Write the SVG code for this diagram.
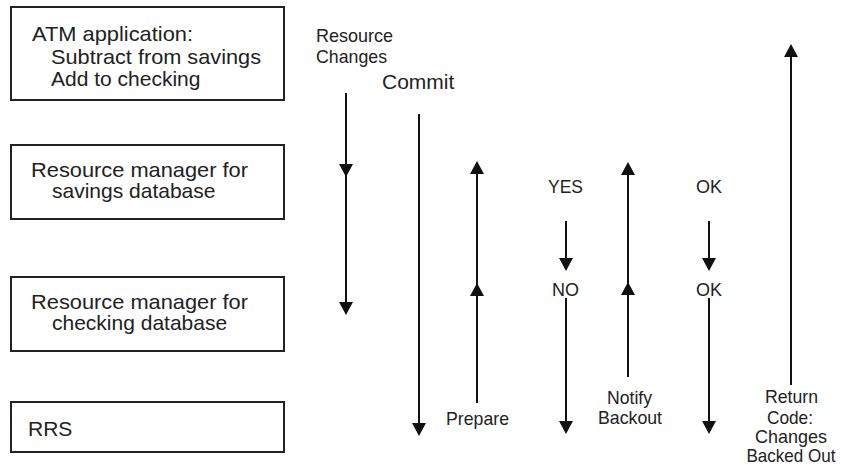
<svg xmlns="http://www.w3.org/2000/svg" width="842" height="472" viewBox="0 0 842 472">
<style>
.box{fill:#fff;stroke:#222;stroke-width:2}
.bt{font-family:"Liberation Sans",Arial,sans-serif;font-size:21px;fill:#222}
.lb{font-family:"Liberation Sans",Arial,sans-serif;font-size:19px;fill:#222}
.cm{font-family:"Liberation Sans",Arial,sans-serif;font-size:21px;fill:#222}
.ar{fill:none;stroke:#111;stroke-width:2;marker-end:url(#ah);marker-mid:url(#ah)}
</style>
<defs>
<marker id="ah" markerUnits="userSpaceOnUse" markerWidth="14" markerHeight="14" refX="11" refY="7" orient="auto" viewBox="0 0 14 14">
<path d="M0,0 L13,7 L0,14 z" fill="#111"/>
</marker>
</defs>
<g id="atm">
<rect class="box" x="11" y="7" width="273" height="93"/>
<text class="bt" x="32" y="41" textLength="161" lengthAdjust="spacingAndGlyphs">ATM application:</text>
<text class="bt" x="51" y="64" textLength="210" lengthAdjust="spacingAndGlyphs">Subtract from savings</text>
<text class="bt" x="51" y="86">Add to checking</text>
</g>
<g id="rm-savings">
<rect class="box" x="11" y="145" width="273" height="74"/>
<text class="bt" x="31" y="177" textLength="217" lengthAdjust="spacingAndGlyphs">Resource manager for</text>
<text class="bt" x="52" y="198">savings database</text>
</g>
<g id="rm-checking">
<rect class="box" x="11" y="277" width="273" height="74"/>
<text class="bt" x="31" y="309" textLength="217" lengthAdjust="spacingAndGlyphs">Resource manager for</text>
<text class="bt" x="52" y="330">checking database</text>
</g>
<g id="rrs">
<rect class="box" x="11" y="402" width="273" height="50"/>
<text class="bt" x="28" y="436">RRS</text>
</g>
<g id="connectors">
<polyline class="ar" points="346,93 346,175 346,313"/>
<polyline class="ar" points="419,114 419,434"/>
<polyline class="ar" points="477,403 477,285 477,163"/>
<polyline class="ar" points="566,221 566,269"/>
<polyline class="ar" points="566,298 566,432"/>
<polyline class="ar" points="628,377 628,284 628,164"/>
<polyline class="ar" points="709,221 709,269"/>
<polyline class="ar" points="709,298 709,432"/>
<polyline class="ar" points="791,385 791,46"/>
</g>
<g id="labels">
<text class="lb" x="316" y="42" textLength="77" lengthAdjust="spacingAndGlyphs">Resource</text>
<text class="lb" x="316" y="63" textLength="71" lengthAdjust="spacingAndGlyphs">Changes</text>
<text class="cm" x="382" y="89">Commit</text>
<text class="lb" x="548" y="193" textLength="35" lengthAdjust="spacingAndGlyphs">YES</text>
<text class="lb" x="696" y="193" textLength="26" lengthAdjust="spacingAndGlyphs">OK</text>
<text class="lb" x="552" y="296" textLength="27" lengthAdjust="spacingAndGlyphs">NO</text>
<text class="lb" x="696" y="296" textLength="26" lengthAdjust="spacingAndGlyphs">OK</text>
<text class="lb" x="446" y="425" textLength="63" lengthAdjust="spacingAndGlyphs">Prepare</text>
<text class="lb" x="607" y="404" textLength="45" lengthAdjust="spacingAndGlyphs">Notify</text>
<text class="lb" x="598" y="424" textLength="64" lengthAdjust="spacingAndGlyphs">Backout</text>
<text class="lb" x="765" y="403" textLength="53" lengthAdjust="spacingAndGlyphs">Return</text>
<text class="lb" x="767" y="424" textLength="46" lengthAdjust="spacingAndGlyphs">Code:</text>
<text class="lb" x="755" y="443" textLength="72" lengthAdjust="spacingAndGlyphs">Changes</text>
<text class="lb" x="791" y="462" text-anchor="middle" textLength="89" lengthAdjust="spacingAndGlyphs">Backed Out</text>
</g>
</svg>
